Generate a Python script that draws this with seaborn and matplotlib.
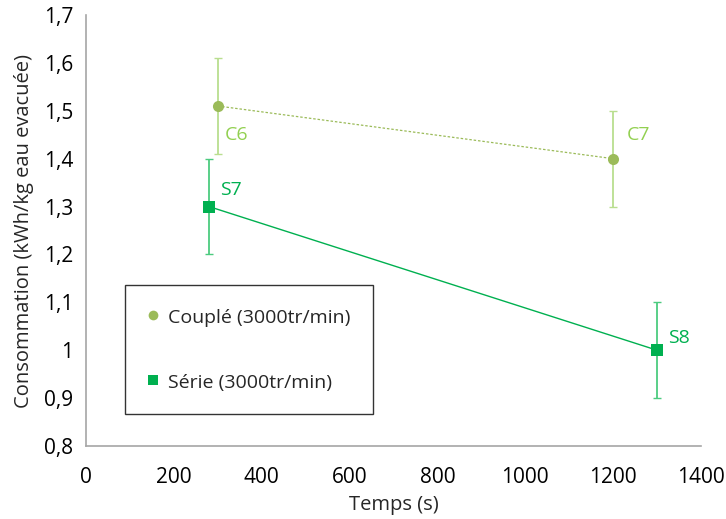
import numpy as np
import pandas as pd
import matplotlib
matplotlib.use("Agg")
import matplotlib.pyplot as plt
import seaborn as sns
from matplotlib.ticker import FuncFormatter

# Data
couple_temps = [300, 1200]
couple_conso = [1.51, 1.40]
couple_err = [0.1, 0.1]
couple_labels = ["C6", "C7"]

serie_temps = [280, 1300]
serie_conso = [1.30, 1.00]
serie_err = [0.1, 0.1]
serie_labels = ["S7", "S8"]

couple_df = pd.DataFrame({"temps": couple_temps, "conso": couple_conso})
serie_df = pd.DataFrame({"temps": serie_temps, "conso": serie_conso})

sns.set_style("white")
plt.rcParams["font.family"] = ["Open Sans", "DejaVu Sans"]

fig = plt.figure(figsize=(7.26, 5.19), dpi=100)
ax = fig.add_axes([86 / 726, 73 / 519, 615 / 726, 431 / 519])

c_main, c_err, c_txt = "#9BBB59", "#B9DE8F", "#92D050"
s_main, s_err, s_txt = "#00B050", "#4CCB7F", "#00B050"

# error bars
ax.errorbar(couple_temps, couple_conso, yerr=couple_err, fmt="none",
            ecolor=c_err, elinewidth=1.3, capsize=3, capthick=1.0, zorder=2)
ax.errorbar(serie_temps, serie_conso, yerr=serie_err, fmt="none",
            ecolor=s_err, elinewidth=1.3, capsize=3, capthick=1.0, zorder=2)

# lines + markers
sns.lineplot(data=couple_df, x="temps", y="conso", ax=ax, color=c_main,
             linestyle=(0, (2, 1.5)), linewidth=0.9, marker="o", markersize=8,
             markeredgewidth=0, label="Couplé (3000tr/min)", zorder=3)
sns.lineplot(data=serie_df, x="temps", y="conso", ax=ax, color=s_main,
             linestyle="-", linewidth=1.0, marker="s", markersize=8,
             markeredgewidth=0, label="Série (3000tr/min)", zorder=3)

# point labels (offsets in points)
couple_off = [(5, -21), (10, 17)]
serie_off = [(8, 12), (8, 9)]
for x, y, t, o in zip(couple_temps, couple_conso, couple_labels, couple_off):
    ax.annotate(t, (x, y), xytext=o, textcoords="offset points",
                color=c_txt, fontsize=14, va="center", ha="left")
for x, y, t, o in zip(serie_temps, serie_conso, serie_labels, serie_off):
    ax.annotate(t, (x, y), xytext=o, textcoords="offset points",
                color=s_txt, fontsize=14, va="center", ha="left")

ax.set_xlim(0, 1400)
ax.set_ylim(0.8, 1.7)
ax.set_xticks(np.arange(0, 1401, 200))
ax.set_yticks(np.arange(0.8, 1.71, 0.1))


def fmt_fr(v, pos):
    if abs(v - round(v)) < 1e-9:
        return f"{int(round(v))}"
    return f"{v:.1f}".replace(".", ",")


ax.yaxis.set_major_formatter(FuncFormatter(fmt_fr))

ax.set_xlabel("Temps (s)", fontsize=14.5, labelpad=5)
ax.set_ylabel("Consommation (kWh/kg eau evacuée)", fontsize=14.5, labelpad=7)

for side in ["top", "right"]:
    ax.spines[side].set_visible(False)
for side in ["left", "bottom"]:
    ax.spines[side].set_color("#A6A6A6")
    ax.spines[side].set_linewidth(1.2)
ax.tick_params(axis="both", which="both", direction="out", length=5,
               width=1, color="#A6A6A6", labelsize=15, labelcolor="black")
ax.tick_params(axis="y", pad=4)
ax.tick_params(axis="x", pad=10)

leg = ax.legend(loc="upper left", bbox_to_anchor=(39 / 615, 161 / 431),
                frameon=True, fancybox=False, edgecolor="black",
                fontsize=14, handlelength=0.6, handletextpad=0.45,
                handleheight=1.0, labelspacing=2.35, borderpad=1.15,
                borderaxespad=0)
leg.get_frame().set_linewidth(1.0)
for h in leg.legend_handles:
    h.set_linestyle("none")
    h.set_markersize(7)

fig.savefig("out.png", dpi=100)
